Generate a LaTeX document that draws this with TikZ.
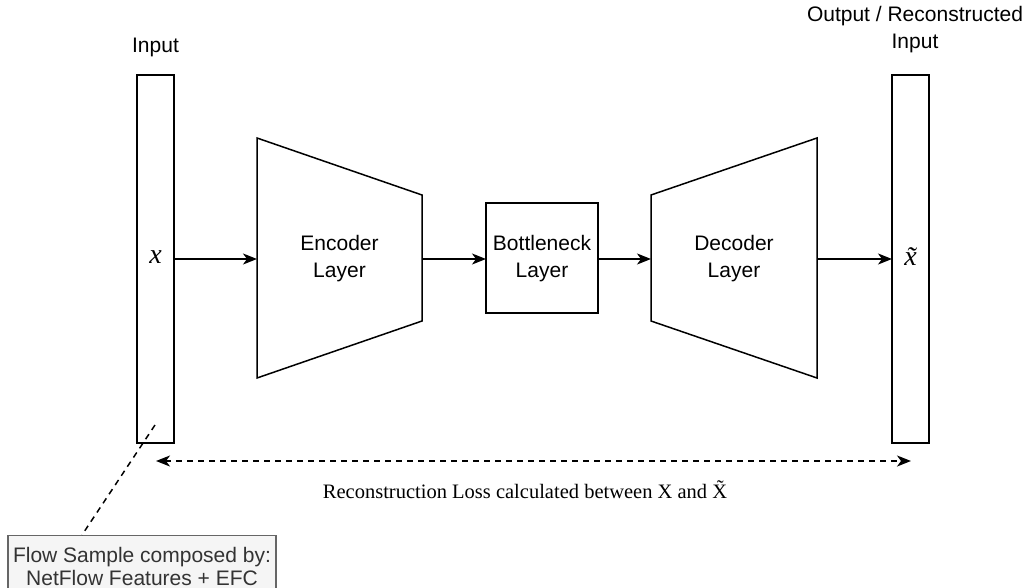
\documentclass[tikz,border=0pt]{standalone}
\usepackage{fontspec}
\setmainfont{Liberation Sans}
\newfontfamily\serifloss{Liberation Serif}
\usetikzlibrary{arrows.meta}
\begin{document}
\begin{tikzpicture}[x=1pt,y=-1pt,
  every node/.style={font=\fontsize{21}{27}\selectfont, inner sep=0pt},
  line/.style={draw=black, line width=1.5pt},
  var/.style={font=\serifloss\itshape\fontsize{28}{30}\selectfont},
  arr/.style={line width=1.5pt, -{Stealth[length=14pt,width=11pt,inset=4pt]}},
  darr/.style={line width=1.5pt, dash pattern=on 6pt off 5pt, {Stealth[length=14pt,width=11pt,inset=4pt]}-{Stealth[length=14pt,width=11pt,inset=4pt]}}]
\useasboundingbox (0,0) rectangle (1027,588);
\begin{scope}
\clip (0,0) rectangle (1027,588);
% input / output bars
\draw[line] (137,75) rectangle (174,443);
\draw[line] (892,75) rectangle (929,443);
\node[var] (inx) at (155.5,257) {x};
\node[var] (outx) at (910.5,257) {\~{x}};
\coordinate (inR) at (174,259);
\coordinate (outL) at (892,259);
\node (inlab) at (155.5,47) {Input};
\node[align=center] (outlab) at (915,30) {Output / Reconstructed\\Input};
% encoder
\draw[line] (257,138) -- (422,195) -- (422,321) -- (257,378) -- cycle;
\node[align=center] (enc) at (339.5,259) {Encoder\\Layer};
\coordinate (encL) at (257,259);
\coordinate (encR) at (422,259);
% bottleneck
\draw[line] (486,203) rectangle (598,313);
\node[align=center] (bot) at (542,259) {Bottleneck\\Layer};
\coordinate (botL) at (486,259);
\coordinate (botR) at (598,259);
% decoder
\draw[line] (651,195) -- (817,138) -- (817,378) -- (651,321) -- cycle;
\node[align=center] (dec) at (734,259) {Decoder\\Layer};
\coordinate (decL) at (651,259);
\coordinate (decR) at (817,259);
% arrows
\draw[arr] (inR) -- (encL);
\draw[arr] (encR) -- (botL);
\draw[arr] (botR) -- (decL);
\draw[arr] (decR) -- (outL);
% loss arrow
\coordinate (lossL) at (156,461);
\coordinate (lossR) at (911,461);
\draw[darr] (lossL) -- (lossR);
\node (loss) at (525,490) {\serifloss\fontsize{20.5}{24}\selectfont Reconstruction Loss calculated between X and \~{X}};
% flow sample box
\node[draw=black!60, fill=black!4, line width=1.2pt, minimum width=268pt, minimum height=62pt, anchor=north, inner ysep=5pt, align=center, text=black!80, font=\fontsize{21}{23}\selectfont] (flow) at (142,535) {Flow Sample composed by:\\NetFlow Features + EFC};
\coordinate (flowTop) at (82,535);
\coordinate (inBot) at (155,425);
\draw[line width=1.5pt, dash pattern=on 6pt off 5pt] (inBot) -- (flowTop);
\end{scope}
\end{tikzpicture}
\end{document}
